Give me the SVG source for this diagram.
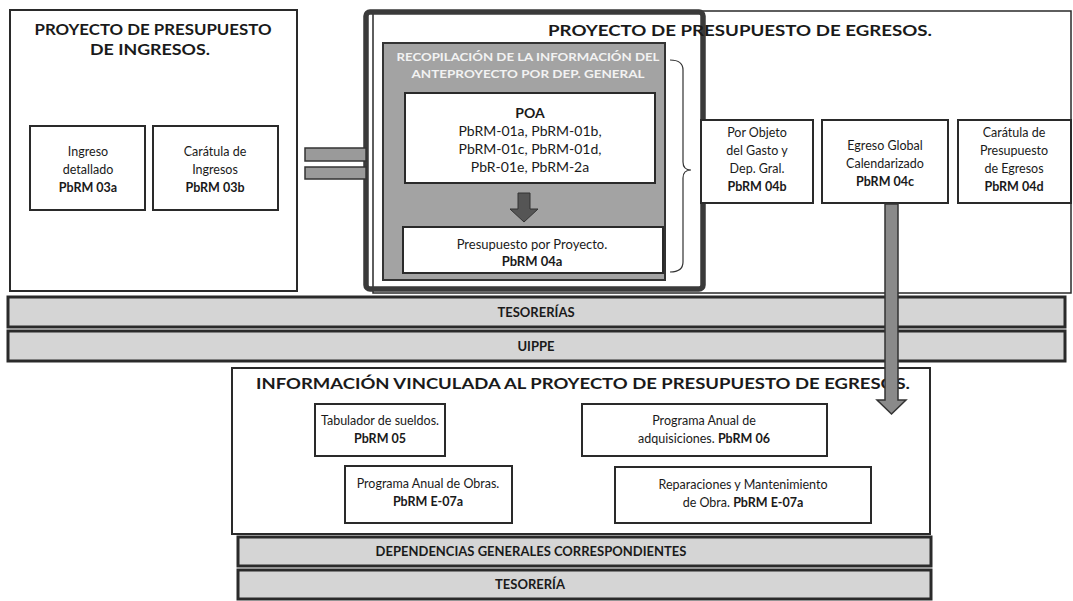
<svg xmlns="http://www.w3.org/2000/svg" width="1073" height="601" viewBox="0 0 1073 601" xml:space="preserve">
<style>
text{font-family:Lato,"Open Sans","Liberation Sans",sans-serif;fill:#1a1a1a;text-anchor:middle}
.b{font-weight:bold}
.t{font-size:15px;font-weight:bold}
.s{font-size:12.5px}
.box{fill:#fff;stroke:#2a2a2a;stroke-width:2}
.band{fill:#d5d5d5;stroke:#2a2a2a;stroke-width:3}
.bt{font-size:13px;font-weight:bold}
.hd{font-size:10.5px;font-weight:bold;fill:#f2f2f2}
</style>
<rect width="1073" height="601" fill="#fff"/>

<g id="ingresos">
<rect x="10" y="10" width="287" height="281" fill="#fff" stroke="#2a2a2a" stroke-width="2"/>
<text class="t" x="153" y="35" textLength="237" lengthAdjust="spacingAndGlyphs">PROYECTO DE PRESUPUESTO</text>
<text class="t" x="150" y="55" textLength="120" lengthAdjust="spacingAndGlyphs">DE INGRESOS.</text>
</g>
<g id="ingreso-detallado">
<rect class="box" x="30" y="126" width="115" height="84"/>
<text class="s" x="88" y="156">Ingreso</text>
<text class="s" x="88" y="174">detallado</text>
<text class="s b" x="88" y="192">PbRM  03a</text>
</g>
<g id="caratula-ingresos">
<rect class="box" x="153" y="126" width="125" height="84"/>
<text class="s" x="215" y="156">Carátula de</text>
<text class="s" x="215" y="174">Ingresos</text>
<text class="s b" x="215" y="192">PbRM  03b</text>
</g>

<g id="egresos">
<rect x="373" y="11" width="698" height="282" fill="#fff" stroke="#2a2a2a" stroke-width="1.5"/>
<rect x="366" y="12" width="337" height="277" rx="4" fill="none" stroke="#3a3a3a" stroke-width="5.5"/>
<text class="t" x="740" y="36" textLength="384" lengthAdjust="spacingAndGlyphs">PROYECTO DE PRESUPUESTO DE EGRESOS.</text>
</g>
<g id="recopilacion">
<rect x="383" y="43" width="282" height="237" fill="#a3a3a3" stroke="#333" stroke-width="2"/>
<text class="hd" x="528" y="61" textLength="263" lengthAdjust="spacingAndGlyphs">RECOPILACIÓN DE LA INFORMACIÓN DEL</text>
<text class="hd" x="528" y="78" textLength="233" lengthAdjust="spacingAndGlyphs">ANTEPROYECTO POR DEP. GENERAL</text>
</g>
<g id="poa">
<rect class="box" x="405" y="93" width="250" height="90"/>
<text x="530" y="118" style="font-size:14px;font-weight:bold">POA</text>
<text x="530" y="136" style="font-size:14px">PbRM-01a, PbRM-01b,</text>
<text x="530" y="154" style="font-size:14px">PbRM-01c, PbRM-01d,</text>
<text x="530" y="172" style="font-size:14px">PbR-01e, PbRM-2a</text>
</g>
<g id="presupuesto-proyecto">
<rect class="box" x="403" y="227" width="260" height="46"/>
<text x="532" y="249" style="font-size:13px">Presupuesto por Proyecto.</text>
<text x="532" y="266" style="font-size:13px;font-weight:bold">PbRM 04a</text>
</g>
<g id="por-objeto">
<rect class="box" x="701" y="120" width="112" height="83"/>
<text class="s" x="757" y="137">Por Objeto</text>
<text class="s" x="757" y="155">del Gasto y</text>
<text class="s" x="757" y="173">Dep. Gral.</text>
<text class="s b" x="757" y="191">PbRM  04b</text>
</g>
<g id="egreso-global">
<rect class="box" x="822" y="120" width="126" height="83"/>
<text class="s" x="885" y="150">Egreso Global</text>
<text class="s" x="885" y="168">Calendarizado</text>
<text class="s b" x="885" y="186">PbRM 04c</text>
</g>
<g id="caratula-egresos">
<rect class="box" x="958" y="120" width="113" height="83"/>
<text class="s" x="1014" y="137">Carátula de</text>
<text class="s" x="1014" y="155">Presupuesto</text>
<text class="s" x="1014" y="173">de Egresos</text>
<text class="s b" x="1014" y="191">PbRM  04d</text>
</g>

<g id="tesorerias">
<rect class="band" x="8" y="297" width="1057" height="30"/>
<text class="bt" x="536" y="317">TESORERÍAS</text>
</g>
<g id="uippe">
<rect class="band" x="8" y="331" width="1057" height="30"/>
<text class="bt" x="536" y="351">UIPPE</text>
</g>

<g id="informacion">
<rect x="232" y="368" width="698" height="166" fill="#fff" stroke="#2a2a2a" stroke-width="2"/>
<text class="t" x="583" y="389" textLength="654" lengthAdjust="spacingAndGlyphs">INFORMACIÓN VINCULADA AL PROYECTO DE PRESUPUESTO DE EGRESOS.</text>
</g>
<g id="tabulador">
<rect class="box" x="315" y="404" width="130" height="52"/>
<text class="s" x="380" y="425">Tabulador de sueldos.</text>
<text class="s b" x="380" y="443">PbRM  05</text>
</g>
<g id="adquisiciones">
<rect class="box" x="582" y="404" width="245" height="52"/>
<text class="s" x="704" y="425">Programa Anual de</text>
<text class="s" x="704" y="443">adquisiciones. <tspan class="b">PbRM 06</tspan></text>
</g>
<g id="obras">
<rect class="box" x="345" y="466" width="167" height="57"/>
<text class="s" x="428" y="488">Programa Anual de  Obras.</text>
<text class="s b" x="428" y="506">PbRM E-07a</text>
</g>
<g id="reparaciones">
<rect class="box" x="615" y="467" width="256" height="56"/>
<text class="s" x="743" y="489">Reparaciones y Mantenimiento</text>
<text class="s" x="743" y="507">de Obra.  <tspan class="b">PbRM E-07a</tspan></text>
</g>
<g id="dependencias">
<rect class="band" x="238" y="537" width="693" height="29"/>
<text class="bt" x="531" y="556">DEPENDENCIAS GENERALES CORRESPONDIENTES</text>
</g>
<g id="tesoreria">
<rect class="band" x="238" y="570" width="693" height="29"/>
<text class="bt" x="530" y="589">TESORERÍA</text>
</g>

<g id="connectors">
<rect x="305" y="148" width="61" height="13" fill="#9a9a9a" stroke="#333" stroke-width="1.5"/>
<rect x="305" y="167" width="61" height="12" fill="#9a9a9a" stroke="#333" stroke-width="1.5"/>
<path d="M518,193 H530 V209 H538 L524,222 L510,209 H518 Z" fill="#555" stroke="#333" stroke-width="1"/>
<path d="M670,60 Q683,60 683,70 V162 Q683,170 691,170 Q683,170 683,178 V262 Q683,272 670,272" fill="none" stroke="#333" stroke-width="1.2"/>
<path d="M885,204 H898 V400 H906 L891.5,414 L877,400 H885 Z" fill="#8a8a8a" stroke="#333" stroke-width="1.5"/>
</g>
</svg>
